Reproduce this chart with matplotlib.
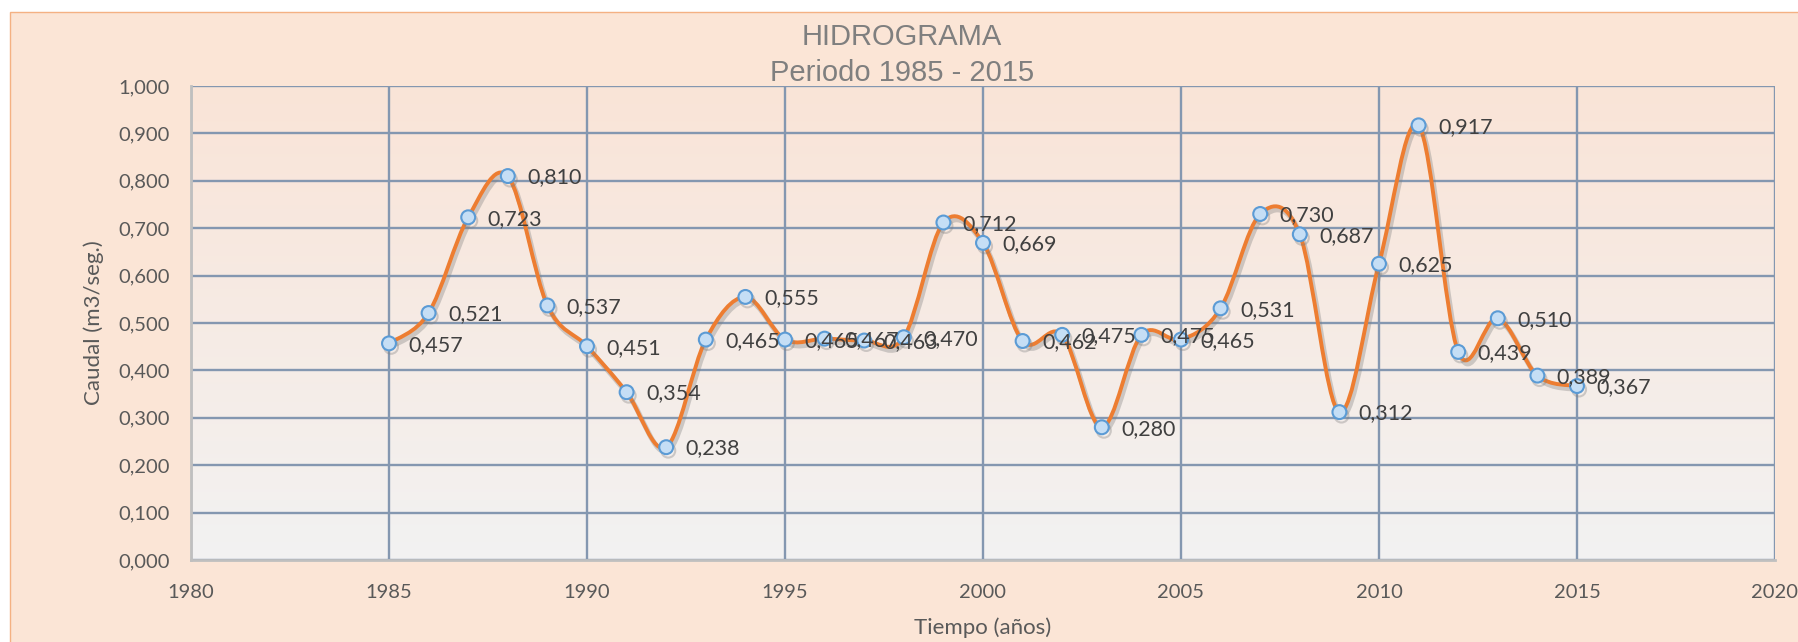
import numpy as np
import matplotlib
matplotlib.use('Agg')
import matplotlib.pyplot as plt
from matplotlib.path import Path
from matplotlib.patches import PathPatch, Rectangle
import matplotlib.patheffects as pe
from matplotlib.ticker import FuncFormatter

# ===== data =====
years = [1985, 1986, 1987, 1988, 1989, 1990, 1991, 1992, 1993, 1994,
         1995, 1996, 1997, 1998, 1999, 2000, 2001, 2002, 2003, 2004,
         2005, 2006, 2007, 2008, 2009, 2010, 2011, 2012, 2013, 2014, 2015]
caudal = [0.457, 0.521, 0.723, 0.810, 0.537, 0.451, 0.354, 0.238, 0.465, 0.555,
          0.465, 0.467, 0.463, 0.470, 0.712, 0.669, 0.462, 0.475, 0.280, 0.475,
          0.465, 0.531, 0.730, 0.687, 0.312, 0.625, 0.917, 0.439, 0.510, 0.389, 0.367]
x_ticks = [1980, 1985, 1990, 1995, 2000, 2005, 2010, 2015, 2020]
y_ticks = [0.0, 0.1, 0.2, 0.3, 0.4, 0.5, 0.6, 0.7, 0.8, 0.9, 1.0]

titulo = 'HIDROGRAMA\nPeriodo 1985 - 2015'
x_label = 'Tiempo (años)'
y_label = 'Caudal (m3/seg.)'

ORANGE = '#ED7D31'
GRID = '#8497B0'
PEACH = '#FBE5D6'
TXT = '#595959'


def smooth_path(x, y):
    """ Cubic bezier through the points, Catmull-Rom style (like Excel smoothing) """
    pts = np.column_stack([x, y]).astype(float)
    ext = np.vstack([pts[0], pts, pts[-1]])
    verts = [pts[0]]
    codes = [Path.MOVETO]
    for i in range(1, len(ext) - 2):
        p0, p1, p2, p3 = ext[i - 1], ext[i], ext[i + 1], ext[i + 2]
        c1 = p1 + (p2 - p0) / 6.0
        c2 = p2 - (p3 - p1) / 6.0
        verts += [c1, c2, p2]
        codes += [Path.CURVE4] * 3
    return Path(verts, codes)


fig = plt.figure(figsize=(17.98, 6.42), dpi=100, facecolor='white')

# chart area box (peach, cut at right/bottom like the screenshot)
fig.patches.append(Rectangle((10 / 1798, -0.01), 1.0, 1 - 12 / 642 + 0.01,
                             transform=fig.transFigure, facecolor=PEACH,
                             edgecolor='#F4B183', linewidth=1.0, zorder=-10))

ax = fig.add_axes([191 / 1798, 1 - 560 / 642, 1584 / 1798, 474 / 642])
ax.set_facecolor('none')

# plot area gradient, peach on top to light gray at bottom
top = np.array([0xFA, 0xE4, 0xD7]) / 255
bot = np.array([0xF2, 0xF2, 0xF2]) / 255
t = np.linspace(0, 1, 256)[:, None]
grad = (top * (1 - t) + bot * t)[:, None, :]
ax.imshow(grad, extent=[0, 1, 0, 1], transform=ax.transAxes,
          aspect='auto', zorder=0, interpolation='bilinear')

ax.set_xlim(1980, 2020)
ax.set_ylim(0, 1.0)
ax.set_xticks(x_ticks)
ax.set_yticks(y_ticks)
ax.yaxis.set_major_formatter(FuncFormatter(lambda v, p: f'{v:.3f}'.replace('.', ',')))
ax.grid(True, color=GRID, linewidth=1.7, zorder=1)
ax.set_axisbelow(True)

for s in ['top', 'right']:
    ax.spines[s].set_visible(False)
for s in ['left', 'bottom']:
    ax.spines[s].set_color('#BFBFBF')
    ax.spines[s].set_linewidth(2.0)
    ax.spines[s].set_zorder(2)

ax.tick_params(length=0, labelsize=14.5, labelcolor=TXT)
ax.tick_params(axis='y', pad=15)
ax.tick_params(axis='x', pad=17)
for lab in ax.get_xticklabels() + ax.get_yticklabels():
    lab.set_family('Lato')

ax.set_xlabel(x_label, fontsize=16, color=TXT, family='Lato')
ax.set_ylabel(y_label, fontsize=16, color=TXT, family='Lato')
ax.xaxis.label.set_va('center')
ax.yaxis.label.set_va('center')
ax.xaxis.set_label_coords(0.5, -0.1435)
ax.yaxis.set_label_coords(-0.0612, 0.5)

# smoothed line with a soft shadow
curve = PathPatch(smooth_path(years, caudal), fill=False, edgecolor=ORANGE,
                  linewidth=2.8, zorder=3, capstyle='round', joinstyle='round')
curve.set_path_effects([pe.SimpleLineShadow(offset=(1.5, -2.5), shadow_color='#7F7F7F',
                                            alpha=0.35, linewidth=3.7),
                        pe.Normal()])
ax.add_patch(curve)

mk = ax.plot(years, caudal, linestyle='none', marker='o', markersize=10,
             markerfacecolor='#C5DEF5', markeredgecolor='#5B9BD5',
             markeredgewidth=1.5, zorder=4)[0]
mk.set_path_effects([pe.SimpleLineShadow(offset=(1.5, -2.5), shadow_color='#7F7F7F',
                                         alpha=0.35), pe.Normal()])

for xv, yv in zip(years, caudal):
    ax.annotate(f'{yv:.3f}'.replace('.', ','), (xv, yv), xytext=(14, -1),
                textcoords='offset points', ha='left', va='center',
                fontsize=15.5, color='#404040', family='Lato', zorder=5)

fig.text(902 / 1798, 1 - 55 / 642, titulo, ha='center', va='center',
         fontsize=21, color='#7F7F7F', family='Liberation Sans', linespacing=1.4)

fig.savefig('out.png', dpi=100, facecolor='white')
